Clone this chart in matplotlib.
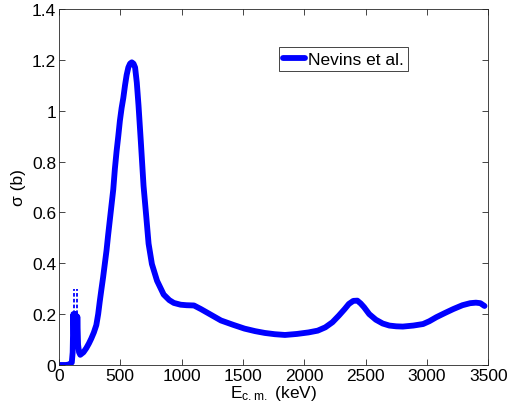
import numpy as np
import matplotlib.pyplot as plt

plt.rcParams['font.family'] = ['Liberation Sans', 'DejaVu Sans']

# energy (keV) and cross section (b)
e_kev = [0, 60, 90, 105, 112, 118, 122, 126, 130, 134, 138, 142, 146, 150, 156, 164, 174,
         200, 223, 245, 264, 285, 305, 320, 333, 346, 360, 374, 388, 401, 415, 429, 443,
         456, 470, 484, 497, 511, 525, 539, 552, 566, 580, 594, 608, 621, 635, 649, 668,
         690, 712, 731, 758, 800, 854, 900, 937, 992, 1040, 1101, 1157, 1230, 1321,
         1420, 1513, 1600, 1678, 1760, 1843, 1940, 2035, 2110, 2172, 2230, 2282, 2330,
         2364, 2400, 2433, 2460, 2488, 2530, 2584, 2640, 2694, 2750, 2804, 2890, 2969,
         3020, 3078, 3150, 3216, 3290, 3353, 3400, 3436, 3470]
sigma_b = [0.0, 0.0, 0.003, 0.01, 0.05, 0.20, 0.12, 0.20, 0.10, 0.20, 0.09, 0.19, 0.10,
           0.19, 0.08, 0.05, 0.040, 0.050, 0.066, 0.085, 0.104, 0.128, 0.157, 0.200,
           0.250, 0.296, 0.344, 0.397, 0.450, 0.510, 0.570, 0.630, 0.690, 0.770, 0.840,
           0.900, 0.960, 1.010, 1.050, 1.100, 1.140, 1.170, 1.185, 1.190, 1.185, 1.170,
           1.110, 1.020, 0.877, 0.704, 0.584, 0.477, 0.397, 0.331, 0.277, 0.255, 0.244,
           0.237, 0.235, 0.234, 0.220, 0.200, 0.175, 0.158, 0.143, 0.133, 0.126, 0.121,
           0.118, 0.122, 0.128, 0.135, 0.148, 0.168, 0.194, 0.220, 0.240, 0.252, 0.253,
           0.242, 0.227, 0.200, 0.178, 0.163, 0.155, 0.152, 0.151, 0.155, 0.161, 0.172,
           0.188, 0.205, 0.220, 0.235, 0.243, 0.245, 0.243, 0.232]

# narrow resonances (dashed markers)
res_kev = [119, 146]
res_lo = 0.2
res_hi = 0.3

fig = plt.figure(figsize=(5.08, 4.14), dpi=100)
ax = fig.add_axes([0.116, 0.116, 0.845, 0.86])

ax.plot(e_kev, sigma_b, color='#0000ff', lw=4.2, solid_joinstyle='round',
        solid_capstyle='round', label='Nevins et al.')
for r in res_kev:
    ax.plot([r, r], [res_lo, res_hi], color='#0000ff', lw=1.3, ls=(0, (2, 1.2)))

ax.set_xlim(0, 3500)
ax.set_ylim(0, 1.4)
ax.set_xticks(np.arange(0, 3501, 500))
ax.set_yticks(np.arange(0, 1.41, 0.2))
ax.set_yticklabels(['0', '0.2', '0.4', '0.6', '0.8', '1', '1.2', '1.4'])
ax.tick_params(direction='in', length=4, width=0.6, colors='#262626',
               top=True, right=True, labelsize=12.5, pad=2)
for tl in ax.get_xticklabels() + ax.get_yticklabels():
    tl.set_color('black')
for sp in ax.spines.values():
    sp.set_linewidth(0.6)
    sp.set_color('#262626')

ax.set_xlabel('$\\mathregular{E_{c.m.}}$ (keV)', fontsize=12.5, labelpad=0)
ax.set_ylabel('σ (b)', fontsize=12.5, labelpad=4)

leg = ax.legend(loc='upper left', bbox_to_anchor=(0.513, 0.892), fontsize=12.5,
                handlelength=1.25, handletextpad=0.15, borderpad=0.25,
                fancybox=False, framealpha=1, borderaxespad=0)
leg.get_frame().set_edgecolor('#262626')
leg.get_frame().set_linewidth(0.6)

fig.savefig('out.png', dpi=100)
